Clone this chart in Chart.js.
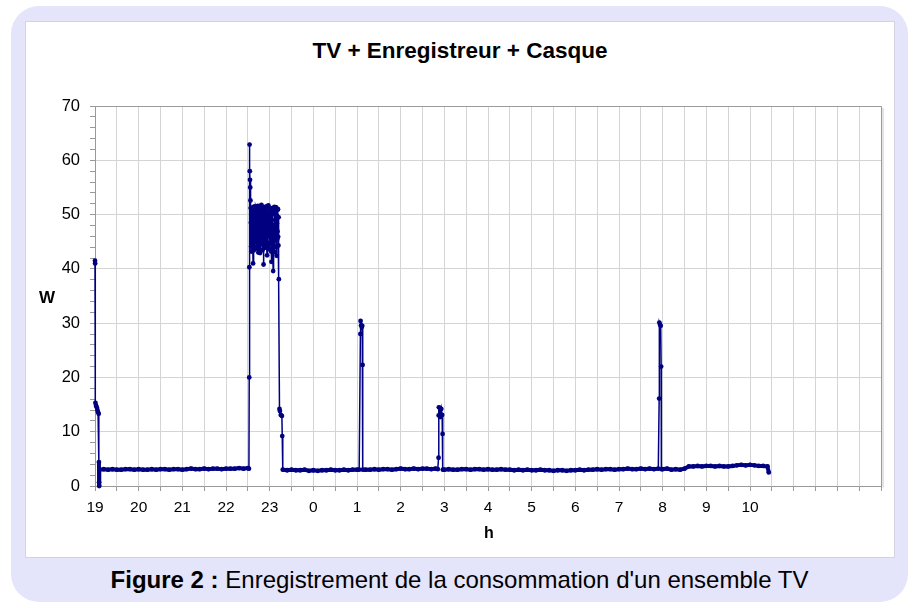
<!DOCTYPE html>
<html>
<head>
<meta charset="utf-8">
<script src="https://cdn.jsdelivr.net/npm/chart.js@4/dist/chart.umd.min.js"></script>
<style>
  html, body { margin: 0; padding: 0; background: #fff; }
  body { width: 914px; height: 602px; position: relative; overflow: hidden; font-family: "Liberation Sans", Arial, sans-serif; }
  #panel { position: absolute; left: 11px; top: 6px; width: 897px; height: 596px; background: #e4e4fa; border-radius: 28px; }
  #card { position: absolute; left: 25px; top: 21px; width: 868px; height: 535px; background: #fff; border: 1px solid #d2d2e0; }
  #title { position: absolute; left: 25px; width: 870px; top: 38px; text-align: center; font-weight: bold; font-size: 22.5px; color: #000; }
  #caption { position: absolute; left: 11px; width: 897px; top: 566px; text-align: center; font-size: 24px; color: #000; }
  canvas { position: absolute; left: 0; top: 0; }
</style>
</head>
<body>
<div id="panel"></div>
<div id="card"></div>
<div id="title">TV + Enregistreur + Casque</div>
<div id="caption"><b>Figure 2 :</b> Enregistrement de la consommation d'un ensemble TV</div>
<canvas id="chart" width="914" height="602"></canvas>
<script>
// hour labels shown under the x axis (x values are hours since 19h, continuing past midnight)
const hourLabels = ['19','20','21','22','23','0','1','2','3','4','5','6','7','8','9','10'];

// standby readings, one every 0.1 h
const baseA = [3.0,3.1,3.0,3.1,3.0,3.0,3.1,3.1,3.0,3.1,3.0,3.0,3.1,3.0,3.1,3.1,3.0,3.1,3.1,3.0,3.1,3.2,3.1,3.1,3.2,3.1,3.2,3.2,3.1,3.2,3.2,3.2,3.3,3.2,3.3];
const baseB = [3.0,2.9,3.0,2.9,2.9,3.0,2.8,2.9,2.8,2.9,2.9,3.0,2.9,2.9,3.0,2.9,3.0,3.0];
const baseC = [3.0,3.0,3.1,3.0,3.1,3.1,3.0,3.1,3.2,3.1,3.1,3.2,3.1,3.2,3.2,3.1,3.2];
const baseD = [3.0,3.1,3.0,3.0,3.1,3.1,3.0,3.1,3.1,3.0,3.1,3.0,3.0,3.1,3.0,3.0,2.9,3.0,2.9,3.0,
               2.9,2.9,3.0,2.9,2.9,2.8,2.9,2.9,2.8,2.9,2.9,3.0,2.9,3.0,3.0,3.1,3.0,3.1,3.1,3.0,
               3.1,3.1,3.2,3.1,3.1,3.2,3.1,3.2,3.1,3.2];
const baseE = [3.1,3.2,3.0,3.1,3.0,3.2,3.6,3.6,3.7,3.6,3.7,3.7,3.6,3.7,3.6,3.6,3.7,3.8,3.9,3.8,3.9,3.8,3.7,3.7,3.6];

// TV viewing, one reading every 0.005 h
const tvOn = [48.5,44.1,43.2,49.6,50.8,46.2,44.6,51.1,51.3,45.0,41.0,47.3,49.7,43.4,45.9,50.9,
              51.5,47.8,43.8,48.2,50.2,44.9,46.7,51.4,51.0,46.0,44.1,49.8,49.3,43.7,47.2,50.5,
              51.6,45.3,43.0,48.9,50.5,46.6,45.4,51.0,51.2,44.4,42.9,47.7,48.8,43.3,46.3,50.7,
              51.8,47.1,44.7,49.2,50.1,45.6,43.5,50.0,51.4,46.4,40.8,47.9,49.9,44.0,45.0,51.2,
              51.1,46.9,43.9,48.6,50.6,45.1,46.8,51.5,51.3,44.6,42.5,48.0,49.4,43.8,44.2,50.4,
              51.7,48.3,47.5,49.1,50.3,44.8,43.6,50.2,51.0,46.1,45.8,50.8,49.6,43.2,41.3,47.0,
              51.2,45.7,44.9,50.1,50.7,43.4,39.6,46.5,48.1,44.3,46.2,51.3,51.4,45.2,43.1,49.0,
              50.4,46.3,45.6,51.1,51.3,44.0,42.4,48.4,49.8,45.5,46.9,50.9,51.0,45.9,44.3,49.5];

// short events: [hour, watts]
const startEvent = [[19.000,41.5],[19.003,41.0],[19.010,15.3],[19.025,14.8],[19.040,14.5],[19.055,14.0],
                    [19.070,13.6],[19.085,13.3],[19.090,4.4],[19.093,0.7],[19.096,0.0]];
const tvStart = [[22.525,3.2],[22.532,20.0],[22.535,40.3],[22.540,62.9],[22.545,58.0],[22.550,56.4],
                 [22.555,55.0],[22.560,52.6],[22.565,51.2]];
const tvStop = [[23.210,38.1],[23.225,14.2],[23.235,13.8],[23.255,13.1],[23.280,12.9],[23.288,9.2]];
const event1h = [[25.050,3.0],[25.078,28.0],[25.082,30.4],[25.095,29.6],[25.110,29.3],[25.120,29.5],
                 [25.128,22.3],[25.134,3.0]];
const event3h = [[26.850,3.1],[26.868,5.2],[26.871,13.0],[26.875,14.5],[26.900,14.4],[26.910,12.7],
                 [26.930,14.2],[26.950,13.1],[26.960,9.6],[26.966,3.0]];
const event8h = [[31.920,16.1],[31.924,30.1],[31.940,29.7],[31.955,29.5],[31.965,22.0],[31.970,3.1]];
const endPoint = [[34.430,2.5]];

function fromSamples(start, step, values){
  return values.map((v, i) => ({ x: +(start + i * step).toFixed(3), y: v }));
}
function fromPairs(pairs){
  return pairs.map(p => ({ x: p[0], y: p[1] }));
}

const points = [].concat(
  fromPairs(startEvent),
  fromSamples(19.10, 0.1, baseA),
  fromPairs(tvStart),
  fromSamples(22.57, 0.005, tvOn),
  fromPairs(tvStop),
  fromSamples(23.30, 0.1, baseB),
  fromPairs(event1h),
  fromSamples(25.20, 0.1, baseC),
  fromPairs(event3h),
  fromSamples(27.00, 0.1, baseD),
  fromPairs(event8h),
  fromSamples(32.00, 0.1, baseE),
  fromPairs(endPoint)
);

const AXIS_GREY = '#9a9a9a';
const GRID_GREY = '#d4d4d4';

// frame on top/right + unrotated axis titles
const framePlugin = {
  id: 'frame',
  afterDraw(chart){
    const { ctx, chartArea: a } = chart;
    ctx.save();
    ctx.strokeStyle = AXIS_GREY;
    ctx.lineWidth = 1;
    ctx.beginPath();
    ctx.moveTo(a.left, a.top + 0.5);
    ctx.lineTo(a.right + 0.5, a.top + 0.5);
    ctx.lineTo(a.right + 0.5, a.bottom);
    ctx.stroke();
    ctx.strokeStyle = '#c8c8c8';
    ctx.beginPath();
    ctx.moveTo(a.right + 2, a.top + 2);
    ctx.lineTo(a.right + 2, a.bottom + 1.5);
    ctx.stroke();
    ctx.fillStyle = '#000';
    ctx.font = 'bold 17px "Liberation Sans", Arial, sans-serif';
    ctx.textAlign = 'center';
    ctx.textBaseline = 'middle';
    ctx.fillText('W', 47, (a.top + a.bottom) / 2 + 2);
    ctx.font = 'bold 16px "Liberation Sans", Arial, sans-serif';
    ctx.fillText('h', (a.left + a.right) / 2 + 1, 534);
    ctx.restore();
  }
};

new Chart(document.getElementById('chart'), {
  type: 'line',
  data: {
    datasets: [{
      data: points,
      borderColor: '#000080',
      borderWidth: 1.5,
      // the standby band is drawn from tightly packed markers in the original
      segment: {
        borderWidth: c => (c.p0.parsed.y < 5 && c.p1.parsed.y < 5) ? 4 : 1.5
      },
      pointRadius: 2.4,
      pointBorderWidth: 0,
      pointBackgroundColor: '#000080',
      tension: 0,
      clip: 4
    }]
  },
  options: {
    responsive: false,
    animation: false,
    layout: { padding: { top: 106, right: 33, left: 0, bottom: 0 } },
    plugins: { legend: { display: false }, tooltip: { enabled: false } },
    scales: {
      x: {
        type: 'linear',
        min: 19, max: 37,
        afterFit: s => { s.height = 116; },
        afterBuildTicks: s => {
          const t = [];
          for (let v = 19; v <= 37; v += 0.5) t.push({ value: v });
          s.ticks = t;
        },
        ticks: {
          autoSkip: false, maxRotation: 0, padding: 7, color: '#000',
          font: { family: '"Liberation Sans", Arial, sans-serif', size: 15.5 },
          callback: v => (Number.isInteger(v) && v - 19 < hourLabels.length) ? hourLabels[v - 19] : ''
        },
        grid: { color: GRID_GREY, tickColor: AXIS_GREY, tickLength: 5 },
        border: { color: AXIS_GREY }
      },
      y: {
        min: 0, max: 70,
        afterFit: s => { s.width = 95; },
        ticks: {
          stepSize: 2, autoSkip: false, padding: 10, color: '#000',
          font: { family: '"Liberation Sans", Arial, sans-serif', size: 16.5 },
          callback: v => (v % 10 === 0) ? String(v) : ''
        },
        grid: {
          color: c => (c.tick && c.tick.value % 10 === 0) ? GRID_GREY : 'rgba(0,0,0,0)',
          tickColor: AXIS_GREY, tickLength: 5
        },
        border: { color: AXIS_GREY }
      }
    }
  },
  plugins: [framePlugin]
});
</script>
</body>
</html>
